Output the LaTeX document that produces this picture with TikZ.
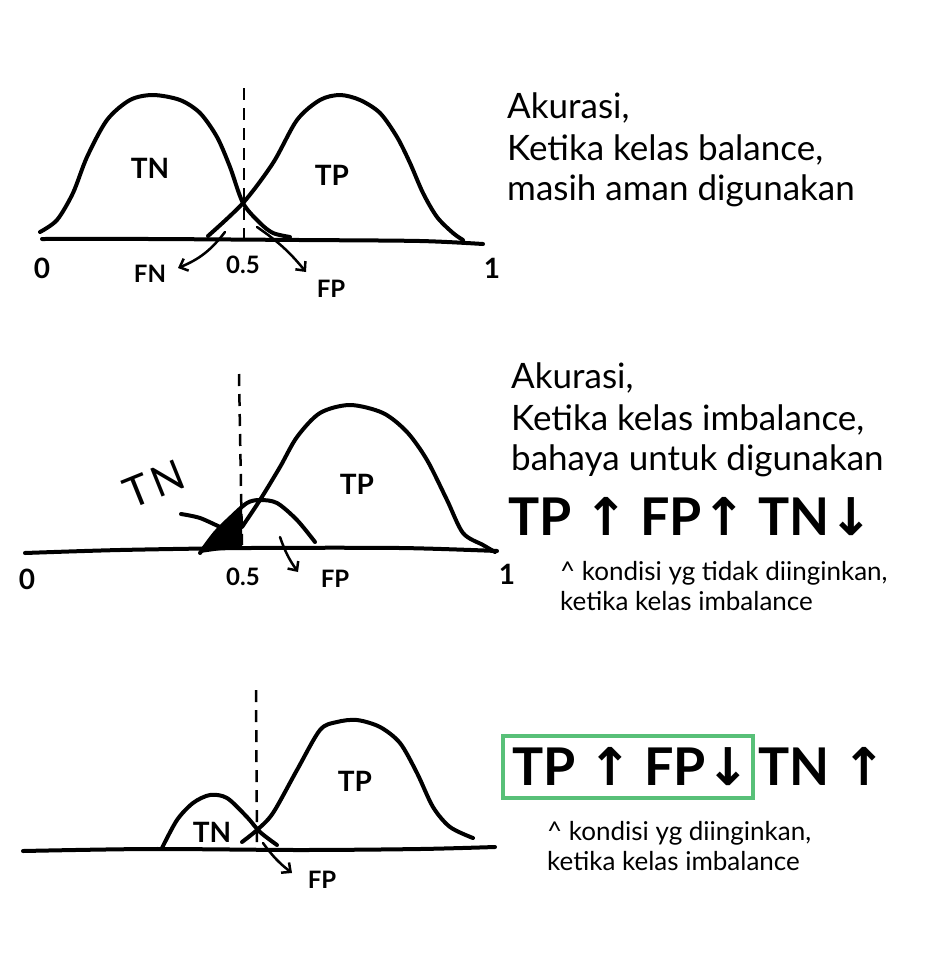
\documentclass[tikz,border=0pt]{standalone}
\usepackage{fontspec}
\setmainfont{Lato}
\newfontfamily\arrowfont{DejaVu Sans}
\usetikzlibrary{arrows.meta}
\begin{document}
\begin{tikzpicture}[x=1pt,y=-1pt,
  curve/.style={line width=4pt, line cap=round, line join=round},
  thr/.style={line width=2.5pt, dash pattern=on 12pt off 8pt},
  pointer/.style={line width=2.5pt, line cap=round, -{Straight Barb[length=7pt,width=13pt,line width=2.5pt]}},
  lbl/.style={font=\fontsize{24}{26}\selectfont\bfseries, inner sep=0pt},
  numlbl/.style={font=\fontsize{28}{30}\selectfont\bfseries, inner sep=0pt},
  inlbl/.style={font=\fontsize{28}{30}\selectfont\bfseries, inner sep=0pt},
  txt/.style={font=\fontsize{35}{38}\selectfont, anchor=base west, inner sep=0pt},
  small/.style={font=\fontsize{26}{28}\selectfont, anchor=base west, inner sep=0pt},
  big/.style={font=\fontsize{52}{58}\selectfont\bfseries, anchor=base west, inner sep=0pt},
  greenbox/.style={draw=boxgreen, line width=3.5pt}]
\definecolor{boxgreen}{RGB}{88,192,120}
\useasboundingbox[fill=white] (0,0) rectangle (932,970);

% ---------- Diagram 1 ----------
\draw[curve] plot[smooth] coordinates {(42,239) (150,239) (300,240) (420,241) (483,244)};
\draw[curve] plot[smooth] coordinates {(40,232) (57,220) (73,193) (87,157) (107,120) (130,100) (153,95) (180,100) (200,113) (217,137) (230,167) (243,203) (260,223) (273,233) (290,237)};
\draw[curve] plot[smooth] coordinates {(208,236) (243,203) (273,163) (297,120) (320,100) (340,95) (360,100) (380,113) (397,137) (410,163) (423,193) (437,217) (453,233) (463,240)};
\coordinate (t1a) at (244,88);
\coordinate (t1b) at (244,238);
\draw[thr] (t1a) -- (t1b);
\node[lbl] (fn1) at (150,274) {FN};
\node[lbl] (fp1) at (331,289) {FP};
\coordinate (fn1s) at (225,232);
\coordinate (fp1s) at (257,227);
\draw[pointer] (fn1s) to[bend left=15] (178,268);
\draw[pointer] (fp1s) to[bend left=8] (306,272);
\node[numlbl] (z1) at (42,268) {0};
\node[lbl] (h1) at (243,265) {0.5};
\node[numlbl] (o1) at (492,268) {1};
\node[inlbl] (tn1) at (150,168) {TN};
\node[inlbl] (tp1) at (332,175) {TP};
\node[txt] (a1) at (507,118) {Akurasi,};
\node[txt] (a2) at (507,160) {Ketika kelas balance,};
\node[txt] (a3) at (507,200) {masih aman digunakan};

% ---------- Diagram 2 ----------
\draw[curve] plot[smooth] coordinates {(25,553) (120,550) (250,548) (400,548) (497,551)};
\fill plot[smooth] coordinates {(200,553) (215,533) (230,518) (242,507)} -- (242,547) -- cycle;
\coordinate (t2a) at (239,374);
\coordinate (t2b) at (242,545);
\draw[thr] (t2a) -- (t2b);
\draw[curve] plot[smooth] coordinates {(200,553) (215,533) (230,518) (247,503) (260,500) (277,503) (297,520) (315,542)};
\draw[curve] plot[smooth] coordinates {(242,527) (260,500) (280,467) (297,437) (320,413) (350,405) (383,413) (407,432) (427,460) (447,500) (463,533) (483,545) (495,552)};
\draw[curve] plot[smooth] coordinates {(181,514) (200,518) (222,528)};
\node[inlbl, font=\fontsize{42}{44}\selectfont, rotate=22] (tn2) at (154,484) {T\kern4pt N};
\node[inlbl] (tp2) at (357,484) {TP};
\coordinate (fp2s) at (280,537);
\draw[pointer] (fp2s) to[bend right=8] (298,572);
\node[lbl] (fp2) at (335,579) {FP};
\node[numlbl] (z2) at (27,579) {0};
\node[lbl] (h2) at (243,577) {0.5};
\node[numlbl] (o2) at (507,574) {1};
\node[txt] (b1) at (511,388) {Akurasi,};
\node[txt] (b2) at (511,430) {Ketika kelas imbalance,};
\node[txt] (b3) at (511,470) {bahaya untuk digunakan};
\node[big] (b4) at (508,535) {TP {\arrowfont↑} FP{\arrowfont↑} TN{\arrowfont↓}};
\node[small] (b5) at (560,580) {\^{} kondisi yg tidak diinginkan,};
\node[small] (b6) at (560,610) {ketika kelas imbalance};

% ---------- Diagram 3 ----------
\draw[curve] plot[smooth] coordinates {(23,851) (150,849) (300,850) (420,849) (495,847)};
\coordinate (t3a) at (256,690);
\coordinate (t3b) at (257,850);
\draw[thr] (t3a) -- (t3b);
\draw[curve] plot[smooth] coordinates {(162,848) (177,820) (193,803) (210,795) (227,798) (247,817) (260,832) (277,845)};
\draw[curve] plot[smooth] coordinates {(242,842) (257,830) (273,813) (297,770) (320,730) (337,722) (357,720) (380,727) (400,743) (417,773) (433,807) (450,827) (473,838)};
\node[inlbl] (tn3) at (212,832) {TN};
\node[inlbl] (tp3) at (355,781) {TP};
\coordinate (fp3s) at (263,843);
\draw[pointer] (fp3s) to[bend right=8] (292,873);
\node[lbl] (fp3) at (322,880) {FP};
\draw[greenbox] (503,736) rectangle (753,798);
\node[big] (c1) at (512,785) {TP {\arrowfont↑} FP{\arrowfont↓}};
\node[big] (c2) at (758,785) {TN {\arrowfont↑}};
\node[small] (c3) at (547,840) {\^{} kondisi yg diinginkan,};
\node[small] (c4) at (547,870) {ketika kelas imbalance};
\end{tikzpicture}
\end{document}
